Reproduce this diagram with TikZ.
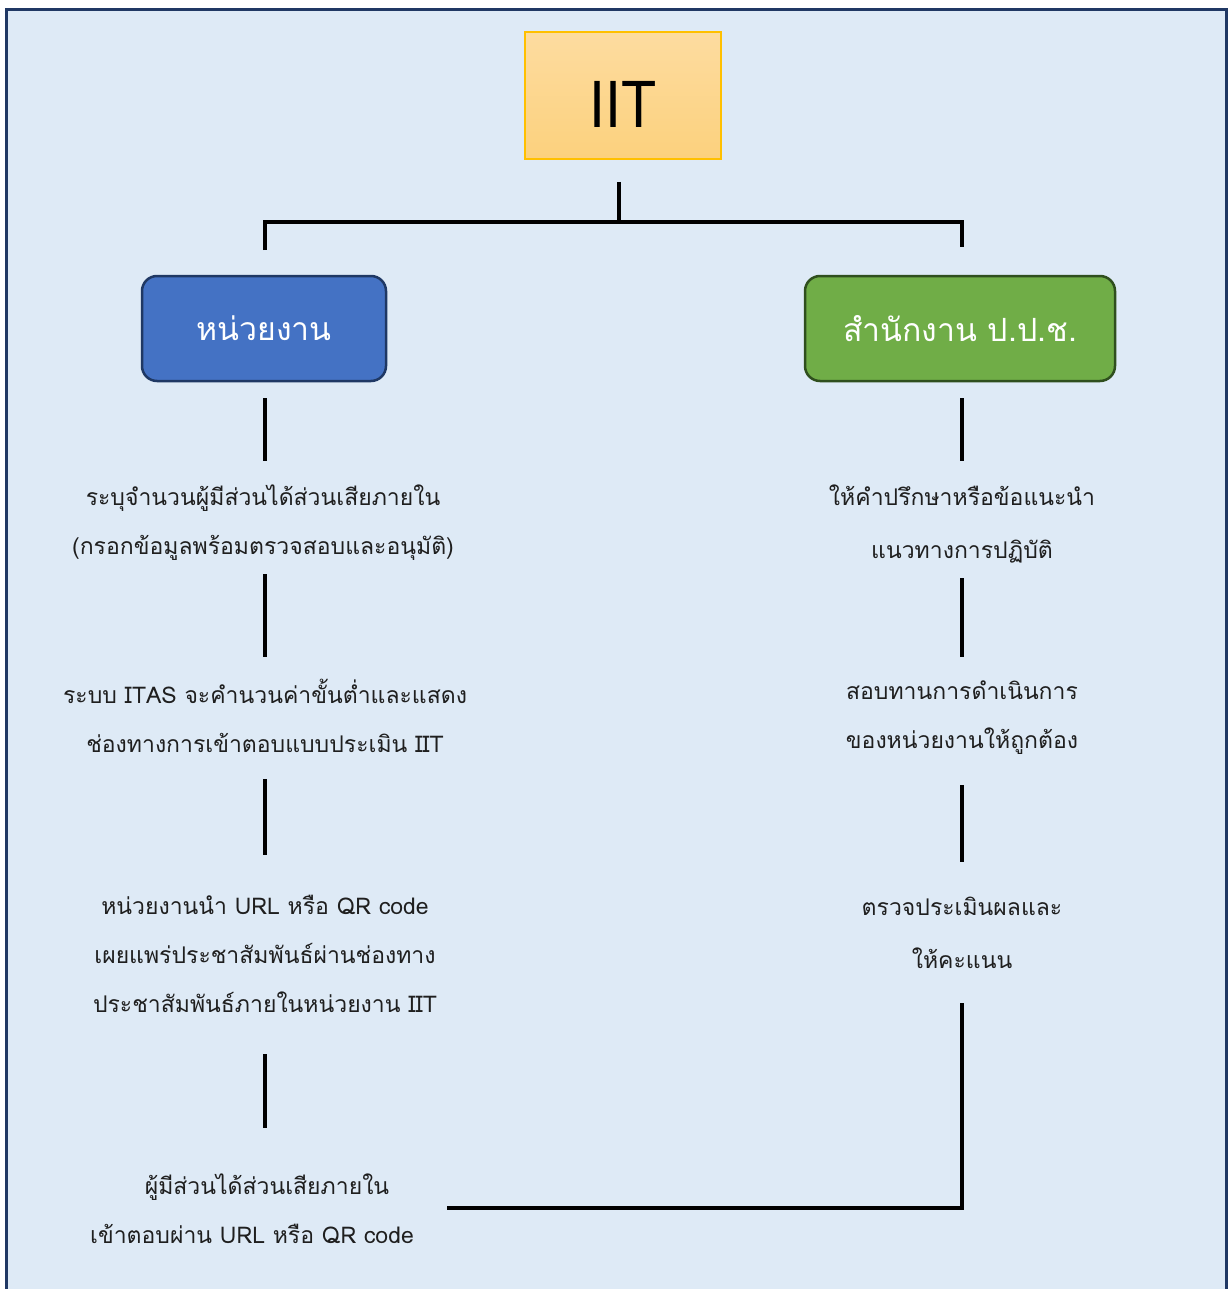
\documentclass[tikz,border=0pt]{standalone}
\usepackage{fontspec}
\newfontfamily\thaifont[Script=Thai]{Loma}
\newfontfamily\latinfont{Liberation Sans}
\definecolor{bgblue}{HTML}{DEEAF6}
\definecolor{frame}{HTML}{203864}
\definecolor{iitborder}{HTML}{FFC000}
\definecolor{iittop}{HTML}{FDDCA0}
\definecolor{iitbot}{HTML}{FCD17D}
\definecolor{unitfill}{HTML}{4472C4}
\definecolor{unitdraw}{HTML}{1F3864}
\definecolor{nacfill}{HTML}{70AD47}
\definecolor{nacdraw}{HTML}{2F4F1E}
\tikzset{
  conn/.style={line width=4pt, black},
  stepbox/.style={align=center, text=black!88, font=\thaifont\fontsize{23}{49}\selectfont, anchor=base, inner sep=0pt},
  headbox/.style={rounded corners=15pt, line width=2.5pt, text=white, font=\thaifont\fontsize{32}{36}\selectfont, inner sep=0pt}
}
\begin{document}
\begin{tikzpicture}[x=1pt,y=-1pt]
\useasboundingbox (0,0) rectangle (1229,1289);
\fill[white] (0,0) rectangle (1229,1289);
\begin{scope}
\clip (0,0) rectangle (1229,1289);
\draw[fill=bgblue, draw=frame, line width=3pt] (6.5,10) rectangle (1226.5,1300);
\end{scope}
% top box
\node[draw=iitborder, line width=2pt, top color=iittop, bottom color=iitbot,
  minimum width=196pt, minimum height=127pt, inner sep=0pt,
  font=\latinfont\fontsize{67}{70}\selectfont] (iit) at (623,95.5) {\smash{\raisebox{-32pt}{\scalebox{0.86}[1]{IIT}}}};
% second level
\node[headbox, fill=unitfill, draw=unitdraw, minimum width=244pt, minimum height=105pt] (unit) at (264,328.5) {หน่วยงาน};
\node[headbox, fill=nacfill, draw=nacdraw, minimum width=310pt, minimum height=105pt] (nac) at (960,328.5) {สำนักงาน ป.ป.ช.};
% tree connector
\coordinate (ct) at (619,182);
\coordinate (cj) at (619,222);
\coordinate (cl) at (265,250);
\coordinate (cr) at (962,247);
\draw[conn] (ct) -- (cj);
\draw[conn] (cl) -- (265,222) -- (962,222) -- (cr);
% left column
\node[stepbox] (l1) at (263,554) {ระบุจำนวนผู้มีส่วนได้ส่วนเสียภายใน\\(กรอกข้อมูลพร้อมตรวจสอบและอนุมัติ)};
\node[stepbox] (l2) at (265,752) {ระบบ ITAS จะคำนวนค่าขั้นต่ำและแสดง\\ช่องทางการเข้าตอบแบบประเมิน IIT};
\node[stepbox] (l3) at (265,1012) {หน่วยงานนำ URL หรือ QR code\\เผยแพร่ประชาสัมพันธ์ผ่านช่องทาง\\ประชาสัมพันธ์ภายในหน่วยงาน IIT};
\node[stepbox] (l4) at (252,1243) {\hspace*{30pt}ผู้มีส่วนได้ส่วนเสียภายใน\\เข้าตอบผ่าน URL หรือ QR code};
% right column
\node[stepbox, font=\thaifont\fontsize{23}{53}\selectfont] (r1) at (962,558) {ให้คำปรึกษาหรือข้อแนะนำ\\แนวทางการปฏิบัติ};
\node[stepbox] (r2) at (962,748) {สอบทานการดำเนินการ\\ของหน่วยงานให้ถูกต้อง};
\node[stepbox, font=\thaifont\fontsize{23}{53}\selectfont] (r3) at (962,968) {ตรวจประเมินผลและ\\ให้คะแนน};
% left connectors
\coordinate (la1) at (265,398); \coordinate (la2) at (265,461);
\coordinate (lb1) at (265,574); \coordinate (lb2) at (265,657);
\coordinate (lc1) at (265,779); \coordinate (lc2) at (265,855);
\coordinate (ld1) at (265,1054); \coordinate (ld2) at (265,1128);
\draw[conn] (la1) -- (la2);
\draw[conn] (lb1) -- (lb2);
\draw[conn] (lc1) -- (lc2);
\draw[conn] (ld1) -- (ld2);
% right connectors
\coordinate (ra1) at (962,398); \coordinate (ra2) at (962,461);
\coordinate (rb1) at (962,578); \coordinate (rb2) at (962,657);
\coordinate (rc1) at (962,785); \coordinate (rc2) at (962,862);
\coordinate (rd1) at (962,1003); \coordinate (rd2) at (447,1208);
\draw[conn] (ra1) -- (ra2);
\draw[conn] (rb1) -- (rb2);
\draw[conn] (rc1) -- (rc2);
\draw[conn] (rd1) |- (rd2);
\end{tikzpicture}
\end{document}
